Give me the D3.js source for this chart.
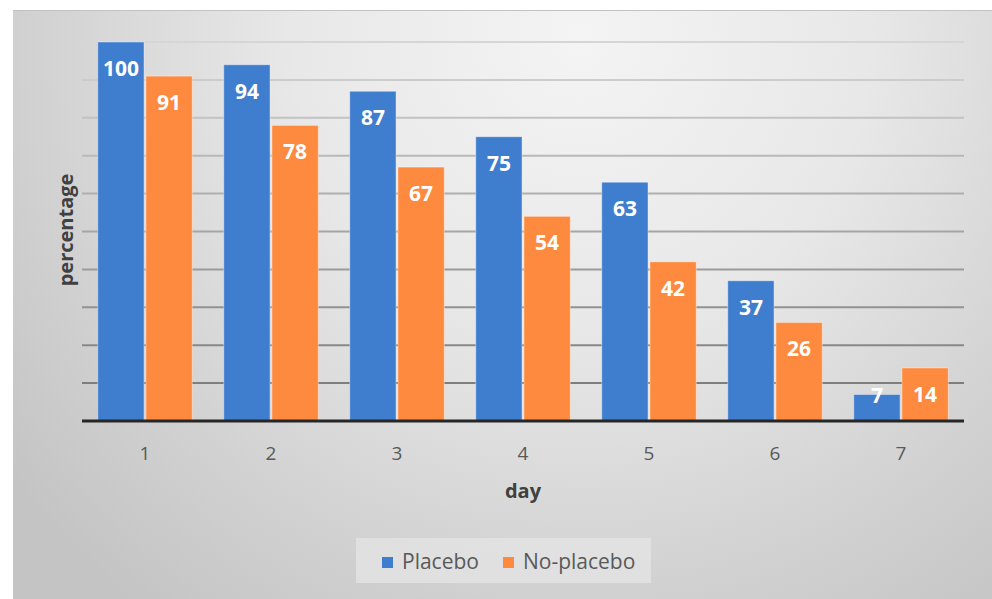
<!DOCTYPE html>
<html>
<head>
<meta charset="utf-8">
<script src="https://cdn.jsdelivr.net/npm/d3@7"></script>
<style>
  body { margin: 0; background: #fff; }
  svg text { font-family: "Open Sans", "Segoe UI", sans-serif; }
</style>
</head>
<body>
<div id="chart"></div>
<script>
// data
var days = ['1', '2', '3', '4', '5', '6', '7'];
var series = ['Placebo', 'No-placebo'];
var placebo = [100, 94, 87, 75, 63, 37, 7];
var noPlacebo = [91, 78, 67, 54, 42, 26, 14];
var gridTicks = [10, 20, 30, 40, 50, 60, 70, 80, 90, 100];

var colors = { 'Placebo': '#3f7dcf', 'No-placebo': '#fd8a3e' };

var width = 992, height = 599;

var svg = d3.select('#chart').append('svg')
  .attr('width', width)
  .attr('height', height);

var defs = svg.append('defs');

// soft radial backdrop like the office chart style
var bg = defs.append('radialGradient')
  .attr('id', 'bgGrad')
  .attr('gradientUnits', 'userSpaceOnUse')
  .attr('cx', 580).attr('cy', 40).attr('r', 720);
bg.append('stop').attr('offset', '0').attr('stop-color', '#f4f4f4');
bg.append('stop').attr('offset', '0.4').attr('stop-color', '#e8e8e8');
bg.append('stop').attr('offset', '0.75').attr('stop-color', '#d2d2d2');
bg.append('stop').attr('offset', '1').attr('stop-color', '#c4c4c4');

// gridlines get darker towards the bottom
var gg = defs.append('linearGradient')
  .attr('id', 'gridGrad')
  .attr('gradientUnits', 'userSpaceOnUse')
  .attr('x1', 0).attr('y1', 40).attr('x2', 0).attr('y2', 400);
gg.append('stop').attr('offset', '0').attr('stop-color', '#d6d6d6');
gg.append('stop').attr('offset', '1').attr('stop-color', '#7a7a7a');

svg.append('rect')
  .attr('x', 13).attr('y', 10)
  .attr('width', width - 13).attr('height', height - 10)
  .attr('fill', 'url(#bgGrad)');

svg.append('line')
  .attr('x1', 13).attr('x2', width)
  .attr('y1', 10.5).attr('y2', 10.5)
  .attr('stroke', '#c2c2c2');

// scales
var x = d3.scaleBand()
  .domain(days)
  .range([82, 964])
  .paddingInner(0.25)
  .paddingOuter(0.125);

var xSub = d3.scaleBand()
  .domain(series)
  .range([0, x.bandwidth()])
  .paddingInner(0.04);

var y = d3.scaleLinear()
  .domain([0, 100])
  .range([421, 42]);

// gridlines
svg.append('g')
  .selectAll('line')
  .data(gridTicks)
  .enter().append('line')
  .attr('x1', 82).attr('x2', 964)
  .attr('y1', function (d) { return y(d); })
  .attr('y2', function (d) { return y(d); })
  .attr('stroke', 'url(#gridGrad)')
  .attr('stroke-width', 2);

// bars
var rows = days.map(function (d, i) {
  return { day: d, values: [
    { key: 'Placebo', value: placebo[i] },
    { key: 'No-placebo', value: noPlacebo[i] }
  ] };
});

var groups = svg.append('g')
  .selectAll('g')
  .data(rows)
  .enter().append('g')
  .attr('transform', function (d) { return 'translate(' + x(d.day) + ',0)'; });

groups.selectAll('rect')
  .data(function (d) { return d.values; })
  .enter().append('rect')
  .attr('x', function (d) { return xSub(d.key); })
  .attr('y', function (d) { return y(d.value); })
  .attr('width', xSub.bandwidth())
  .attr('height', function (d) { return y(0) - y(d.value); })
  .attr('fill', function (d) { return colors[d.key]; })
  .attr('stroke', 'rgba(255,255,255,0.4)')
  .attr('stroke-width', 1);

// value labels inside the bar tops
groups.selectAll('text')
  .data(function (d) { return d.values; })
  .enter().append('text')
  .attr('x', function (d) { return xSub(d.key) + xSub.bandwidth() / 2; })
  .attr('y', function (d) { return Math.min(y(d.value) + 34, y(0) - 18); })
  .attr('text-anchor', 'middle')
  .attr('fill', '#fff')
  .attr('font-size', 21)
  .attr('font-weight', 700)
  .text(function (d) { return d.value; });

// baseline
svg.append('line')
  .attr('x1', 82).attr('x2', 964)
  .attr('y1', y(0)).attr('y2', y(0))
  .attr('stroke', '#262626')
  .attr('stroke-width', 3);

// x tick labels
svg.append('g')
  .selectAll('text')
  .data(days)
  .enter().append('text')
  .attr('x', function (d) { return x(d) + x.bandwidth() / 2; })
  .attr('y', 460)
  .attr('text-anchor', 'middle')
  .attr('fill', '#595959')
  .attr('font-size', 19)
  .text(function (d) { return d; });

// axis titles
svg.append('text')
  .attr('x', 523).attr('y', 498)
  .attr('text-anchor', 'middle')
  .attr('fill', '#404040')
  .attr('font-size', 20)
  .attr('font-weight', 700)
  .text('day');

svg.append('text')
  .attr('transform', 'translate(73,230) rotate(-90)')
  .attr('text-anchor', 'middle')
  .attr('fill', '#404040')
  .attr('font-size', 20)
  .attr('font-weight', 700)
  .text('percentage');

// legend
var legend = svg.append('g');
legend.append('rect')
  .attr('x', 356).attr('y', 538)
  .attr('width', 295).attr('height', 45)
  .attr('fill', '#e4e4e4')
  .attr('opacity', 0.8);

var legendX = [382, 503];
var items = legend.selectAll('g.item')
  .data(series)
  .enter().append('g')
  .attr('class', 'item')
  .attr('transform', function (d, i) { return 'translate(' + legendX[i] + ',557)'; });

items.append('rect')
  .attr('width', 11).attr('height', 11)
  .attr('fill', function (d) { return colors[d]; });

items.append('text')
  .attr('x', 20).attr('y', 12)
  .attr('fill', '#595959')
  .attr('font-size', 21)
  .text(function (d) { return d; });
</script>
</body>
</html>
